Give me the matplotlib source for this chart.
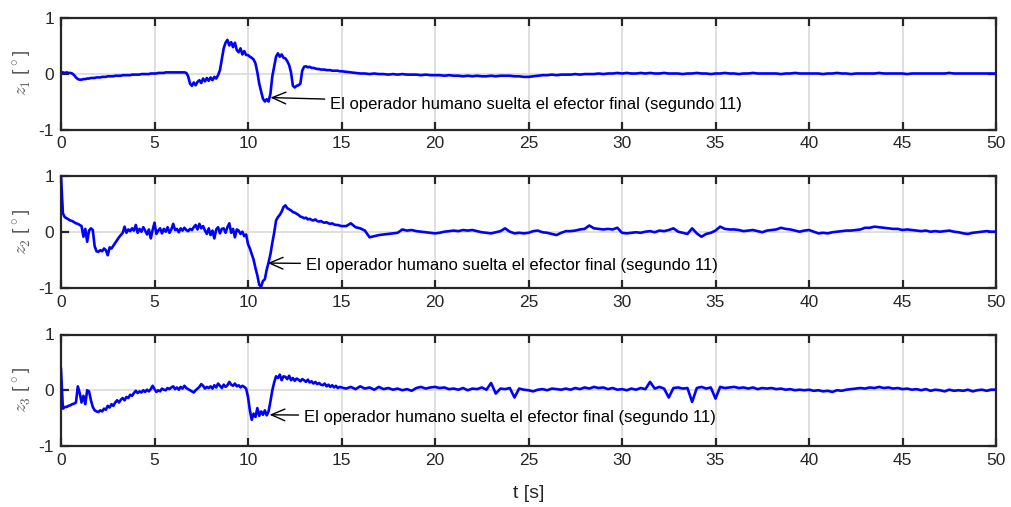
import numpy as np
import matplotlib
matplotlib.use("Agg")
import matplotlib.pyplot as plt

plt.rcParams["font.family"] = ["Liberation Sans", "DejaVu Sans"]
plt.rcParams["mathtext.fontset"] = "cm"
plt.rcParams["axes.unicode_minus"] = False

# ---- data -------------------------------------------------------------
# 0 s .. 14.9 s sampled every 0.1 s (one row per second)
z1_fine = [
    0.02, 0.02, 0.01, 0.02, 0.01, 0.01, 0.00, -0.03, -0.07, -0.10,
    -0.11, -0.11, -0.10, -0.10, -0.09, -0.09, -0.08, -0.08, -0.08, -0.07,
    -0.07, -0.07, -0.06, -0.06, -0.06, -0.05, -0.05, -0.05, -0.05, -0.04,
    -0.04, -0.04, -0.04, -0.03, -0.03, -0.03, -0.03, -0.03, -0.02, -0.02,
    -0.02, -0.02, -0.02, -0.01, -0.01, -0.01, -0.01, -0.01, 0.00, 0.00,
    0.00, 0.00, 0.01, 0.01, 0.01, 0.01, 0.02, 0.02, 0.02, 0.02,
    0.02, 0.02, 0.02, 0.02, 0.02, 0.02, 0.02, 0.01, -0.05, -0.18,
    -0.22, -0.16, -0.21, -0.15, -0.12, -0.17, -0.09, -0.14, -0.08, -0.13,
    -0.07, -0.12, -0.06, -0.09, -0.03, 0.06, 0.25, 0.45, 0.55, 0.60,
    0.50, 0.56, 0.47, 0.55, 0.42, 0.38, 0.45, 0.34, 0.40, 0.33,
    0.33, 0.30, 0.28, 0.25, 0.18, 0.02, -0.18, -0.32, -0.45, -0.50,
    -0.46, -0.50, -0.36, -0.05, 0.12, 0.30, 0.36, 0.30, 0.34, 0.28,
    0.27, 0.22, 0.15, 0.02, -0.22, -0.25, -0.22, -0.21, -0.18, 0.05,
    0.12, 0.13, 0.11, 0.12, 0.10, 0.10, 0.09, 0.08, 0.08, 0.07,
    0.07, 0.07, 0.06, 0.06, 0.06, 0.05, 0.05, 0.05, 0.05, 0.04,
]
z2_fine = [
    1.00, 0.33, 0.26, 0.24, 0.22, 0.20, 0.19, 0.17, 0.15, 0.14,
    0.12, 0.10, -0.09, 0.05, -0.18, 0.02, 0.06, 0.03, -0.26, -0.35,
    -0.36, -0.33, -0.35, -0.30, -0.33, -0.42, -0.28, -0.30, -0.25, -0.20,
    -0.15, -0.10, -0.06, -0.02, 0.09, -0.02, 0.04, 0.01, 0.06, 0.02,
    0.12, -0.02, 0.05, 0.00, 0.08, 0.02, -0.05, 0.04, -0.12, 0.03,
    0.16, -0.04, 0.02, 0.06, -0.03, 0.05, 0.00, 0.08, -0.02, 0.04,
    0.14, 0.03, 0.05, -0.01, 0.06, 0.02, 0.07, 0.03, 0.01, 0.05,
    0.03, 0.08, 0.12, 0.04, 0.14, 0.06, 0.10, 0.02, -0.04, 0.06,
    -0.06, 0.02, -0.12, 0.04, 0.08, -0.03, 0.05, 0.06, -0.02, 0.08,
    0.15, -0.02, 0.05, -0.10, 0.04, 0.02, -0.04, 0.00, -0.08, -0.05,
    -0.22, -0.30, -0.40, -0.50, -0.65, -0.78, -0.95, -0.98, -0.88, -0.85,
    -0.68, -0.55, -0.40, -0.20, -0.02, 0.20, 0.26, 0.30, 0.36, 0.44,
    0.47, 0.42, 0.40, 0.38, 0.35, 0.34, 0.32, 0.30, 0.27, 0.26,
    0.24, 0.25, 0.22, 0.23, 0.21, 0.20, 0.22, 0.19, 0.18, 0.19,
    0.17, 0.16, 0.17, 0.15, 0.14, 0.15, 0.13, 0.12, 0.12, 0.11,
]
z3_fine = [
    0.38, -0.33, -0.30, -0.30, -0.28, -0.27, -0.25, -0.24, -0.22, 0.07,
    -0.05, -0.22, -0.10, -0.25, 0.00, -0.02, -0.18, -0.30, -0.36, -0.38,
    -0.39, -0.36, -0.38, -0.33, -0.35, -0.28, -0.31, -0.25, -0.28, -0.22,
    -0.18, -0.22, -0.17, -0.14, -0.18, -0.12, -0.14, -0.08, -0.10, -0.05,
    -0.01, -0.05, -0.02, -0.04, 0.00, -0.03, 0.01, -0.02, 0.02, 0.08,
    0.02, -0.03, 0.00, -0.02, 0.03, 0.01, 0.00, 0.04, 0.02, 0.05,
    0.07, 0.02, 0.05, 0.01, 0.06, 0.03, 0.08, 0.04, 0.02, 0.00,
    -0.02, -0.04, 0.00, 0.03, 0.06, 0.11, 0.08, 0.03, 0.06, 0.04,
    0.07, 0.03, 0.09, 0.05, 0.12, 0.08, 0.04, 0.10, 0.06, 0.09,
    0.15, 0.10, 0.08, 0.12, 0.07, 0.09, 0.05, 0.08, 0.06, 0.03,
    -0.12, -0.36, -0.53, -0.42, -0.48, -0.32, -0.46, -0.38, -0.44, -0.36,
    -0.45, -0.38, -0.20, 0.00, 0.14, 0.25, 0.22, 0.28, 0.18, 0.25,
    0.24, 0.20, 0.26, 0.18, 0.22, 0.17, 0.21, 0.19, 0.16, 0.20,
    0.18, 0.15, 0.19, 0.14, 0.16, 0.12, 0.15, 0.11, 0.13, 0.10,
    0.09, 0.12, 0.07, 0.10, 0.06, 0.09, 0.05, 0.08, 0.04, 0.06,
]

# 15 s .. 50 s sampled every 0.25 s (one row per second, last value at 50 s)
z1_coarse = [
    0.04, 0.03, 0.02, 0.01,
    0.00, 0.00, -0.01, 0.00,
    -0.01, -0.01, -0.02, -0.01,
    -0.02, -0.01, -0.02, -0.02,
    -0.02, -0.03, -0.02, -0.03,
    -0.03, -0.03, -0.04, -0.03,
    -0.04, -0.04, -0.05, -0.04,
    -0.05, -0.04, -0.05, -0.05,
    -0.04, -0.05, -0.04, -0.04,
    -0.04, -0.05, -0.05, -0.06,
    -0.06, -0.05, -0.04, -0.03,
    -0.03, -0.02, -0.03, -0.02,
    -0.02, -0.02, -0.01, -0.02,
    -0.01, -0.01, -0.01, 0.00,
    -0.01, 0.00, 0.00, 0.01,
    0.00, 0.01, 0.00, 0.00,
    0.01, 0.00, 0.01, 0.00,
    0.00, 0.01, 0.00, 0.00,
    0.00, -0.01, 0.00, 0.00,
    0.01, 0.00, 0.00, -0.01,
    0.00, 0.00, 0.01, 0.00,
    0.00, -0.01, 0.00, 0.00,
    0.01, 0.00, 0.00, 0.00,
    0.00, 0.00, -0.01, 0.00,
    0.00, 0.01, 0.00, 0.00,
    0.00, 0.00, 0.00, -0.01,
    0.00, 0.00, 0.01, 0.00,
    0.00, -0.01, 0.00, 0.00,
    0.00, 0.00, 0.00, 0.01,
    0.00, 0.00, 0.00, 0.00,
    0.00, -0.01, 0.00, 0.00,
    0.00, 0.00, 0.00, 0.00,
    0.00, 0.00, 0.01, 0.00,
    0.00, 0.00, 0.00, 0.00,
    0.00, 0.00, 0.00, 0.00,
    0.00,
]
z2_coarse = [
    0.10, 0.10, 0.15, 0.08,
    0.06, 0.02, -0.10, -0.08,
    -0.06, -0.05, -0.04, -0.03,
    -0.02, 0.04, 0.02, 0.03,
    0.01, 0.00, -0.01, -0.02,
    -0.03, -0.02, 0.00, 0.01,
    0.02, 0.01, 0.03, 0.02,
    0.03, 0.01, -0.01, -0.02,
    -0.03, -0.01, 0.01, 0.06,
    0.00, -0.03, -0.02, -0.03,
    -0.02, 0.01, 0.02, -0.01,
    -0.02, -0.04, -0.06, -0.02,
    0.01, 0.01, 0.02, 0.04,
    0.05, 0.11, 0.06, 0.05,
    0.04, 0.05, 0.04, 0.07,
    -0.02, -0.03, -0.02, -0.01,
    -0.02, 0.00, 0.01, -0.01,
    0.02, 0.01, 0.03, 0.06,
    0.00, -0.02, -0.04, 0.06,
    -0.03, -0.09, -0.04, -0.02,
    0.02, 0.09, 0.05, 0.04,
    0.04, 0.03, 0.01, 0.02,
    0.03, 0.01, -0.01, 0.02,
    0.03, 0.04, 0.07, 0.05,
    0.04, 0.02, 0.00, 0.02,
    0.03, 0.00, -0.03, -0.02,
    -0.03, -0.01, 0.00, 0.01,
    0.02, 0.02, 0.03, 0.04,
    0.07, 0.07, 0.09, 0.08,
    0.07, 0.06, 0.05, 0.05,
    0.03, 0.04, 0.03, 0.02,
    0.01, 0.02, 0.00, 0.01,
    0.00, 0.01, 0.02, 0.00,
    -0.01, -0.03, -0.04, -0.02,
    -0.01, 0.00, 0.01, 0.00,
    0.00,
]
z3_coarse = [
    0.05, 0.03, 0.06, 0.02,
    0.07, 0.03, 0.05, 0.01,
    0.06, 0.02, 0.04, 0.01,
    0.03, 0.00, 0.02, -0.01,
    0.04, 0.06, 0.03, 0.05,
    0.06, 0.04, 0.05, 0.02,
    0.03, 0.01, 0.04, 0.00,
    0.03, 0.02, 0.05, 0.01,
    0.13, -0.06, 0.03, 0.02,
    0.04, -0.13, 0.03, 0.01,
    0.00, -0.02, 0.01, 0.02,
    0.00, 0.03, 0.02, 0.01,
    0.03, 0.01, 0.04, 0.02,
    0.05, 0.03, 0.06, 0.04,
    0.05, 0.02, 0.04, 0.01,
    0.02, 0.00, 0.03, 0.01,
    0.04, 0.02, 0.15, 0.03,
    0.06, 0.03, -0.13, 0.04,
    0.05, 0.03, 0.04, -0.21,
    0.04, 0.06, 0.03, 0.05,
    -0.15, 0.06, 0.04, 0.05,
    0.06, 0.04, 0.05, 0.03,
    0.05, 0.02, 0.04, 0.03,
    0.04, 0.02, 0.03, 0.01,
    0.02, 0.00, 0.01, 0.00,
    0.01, -0.01, 0.00, -0.02,
    -0.01, -0.03, 0.00, -0.01,
    0.01, 0.02, 0.03, 0.04,
    0.03, 0.05, 0.04, 0.06,
    0.04, 0.05, 0.03, 0.04,
    0.02, 0.03, 0.01, 0.02,
    0.00, 0.02, -0.01, 0.01,
    0.00, -0.02, 0.01, -0.01,
    0.00, -0.01, 0.01, -0.02,
    0.00, 0.01, -0.01, 0.01,
    0.01,
]

series = [z1_fine + z1_coarse, z2_fine + z2_coarse, z3_fine + z3_coarse]
ylabels = [r"$z_1$ [$^\circ$]", r"$z_2$ [$^\circ$]", r"$z_3$ [$^\circ$]"]
xticks = list(range(0, 51, 5))
yticks = [-1, 0, 1]
note = "El operador humano suelta el efector final (segundo 11)"
# arrow tip (t, value) and text anchor (t, value) for each panel
note_tip = [(11.2, -0.43), (11.05, -0.56), (11.15, -0.44)]
note_txt = [(14.4, -0.56), (13.1, -0.6), (13.0, -0.48)]

t_fine = 0.1 * np.arange(len(z1_fine))
t_coarse = 15.0 + 0.25 * np.arange(len(z1_coarse))
t = np.concatenate([t_fine, t_coarse])

# ---- figure -------------------------------------------------------------
fig = plt.figure(figsize=(10.11, 5.07), dpi=100)
W, H = 1011, 507
left, right = 61, 996
panels = [(17.5, 129.5), (175.7, 287.7), (334.5, 446.0)]
dark = "#262626"

for i, (top, bot) in enumerate(panels):
    ax = fig.add_axes([left / W, 1 - bot / H, (right - left) / W, (bot - top) / H])
    ax.plot(t, series[i], color=(0, 0, 1), lw=1.9, zorder=3)
    ax.set_xlim(0, 50)
    ax.set_ylim(-1, 1)
    ax.set_xticks(xticks)
    ax.set_yticks(yticks)
    ax.set_yticklabels([str(v) for v in yticks])
    ax.grid(True, color="#dcdcdc", lw=1.3, zorder=0)
    ax.set_axisbelow(True)
    for s in ax.spines.values():
        s.set_color(dark)
        s.set_linewidth(1.6)
    ax.tick_params(direction="in", length=6, width=1.6, color=dark,
                   labelcolor=dark, labelsize=12.5, top=True, right=True, pad=5)
    ax.set_ylabel(ylabels[i], fontsize=13.5, color="#5a5a5a", labelpad=3)
    ax.annotate(note, xy=note_tip[i], xytext=note_txt[i], ha="left", va="center",
                fontsize=12, color="black",
                arrowprops=dict(arrowstyle="->,head_length=0.7,head_width=0.3",
                                color="black", lw=1.0,
                                mutation_scale=14, shrinkA=2, shrinkB=0),
                zorder=5)
    if i == 2:
        ax.set_xlabel("t [s]", fontsize=14, color=dark, labelpad=12)

fig.savefig("out.png", dpi=100)
